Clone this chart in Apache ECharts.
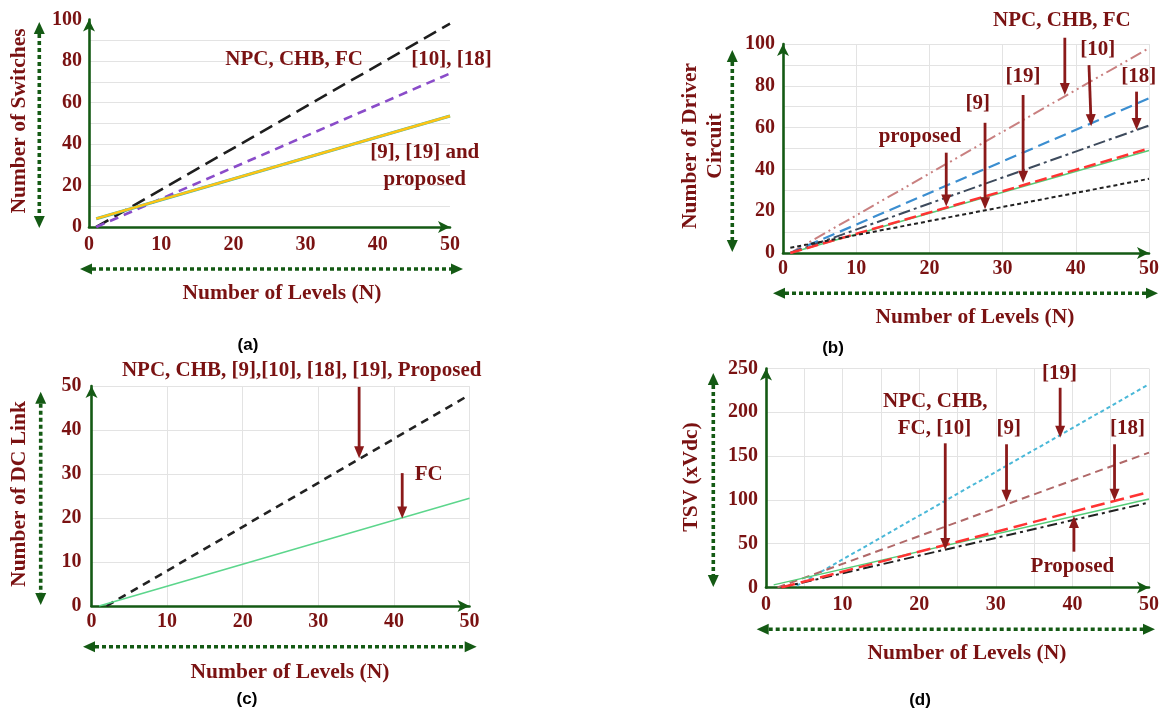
<!DOCTYPE html>
<html>
<head>
<meta charset="utf-8">
<script src="https://cdn.jsdelivr.net/npm/echarts@6/dist/echarts.min.js"></script>
<style>
html,body{margin:0;padding:0;background:#fff;}
#chart{width:1162px;height:713px;}
</style>
</head>
<body>
<div id="chart"></div>
<script>
// ---------- DATA ----------
// (a) Number of switches
const aLevels = [1, 50];
const aNPC = [0, 98];
const aRef10_18 = [0, 74];
const aRef9_19_prop = [4, 53.5];

// (b) Number of driver circuits
const bLevels = [1, 50];
const bNPC = [0, 98];
const bRef10 = [0, 74];
const bRef18 = [0, 61];
const bRef19 = [0, 50];
const bProposed = [0, 49];
const bRef9 = [2.5, 35.5];

// (c) Number of DC links
const cLevelsMain = [2, 50];
const cMain = [0, 48];
const cLevelsFC = [1, 50];
const cFC = [0, 24.5];

// (d) TSV
const dLevels19 = [4, 50];
const dRef19 = [2, 232];
const dLevels9 = [1.5, 50];
const dRef9 = [0, 154];
const dLevels18 = [2, 50];
const dRef18 = [0, 109];
const dLevelsProp = [1, 50];
const dProposed = [3, 101];
const dLevelsNPC = [2, 50];
const dNPC = [0, 97];

// annotations (data coordinates)
const aNotes = [
  ['NPC, CHB, FC', 28.4, 80.5],
  ['[10], [18]', 50.2, 80.5],
  ['[9], [19] and', 46.5, 35.7],
  ['proposed', 46.5, 22.7]
];
const bNotes = [
  ['NPC, CHB, FC', 38.1, 111],
  ['[10]', 43, 97.1],
  ['[19]', 32.8, 84.2],
  ['[18]', 48.6, 84.2],
  ['[9]', 26.6, 71.3],
  ['proposed', 18.7, 55.5]
];
const bArrows = [
  [22.3, 48, 22.3, 22.2],
  [27.6, 62.3, 27.6, 20.9],
  [32.8, 75.6, 32.8, 33.6],
  [38.5, 103, 38.5, 75.6],
  [41.8, 89.9, 42.1, 60.7],
  [48.3, 77.2, 48.3, 58.9]
];
const cNotes = [
  ['NPC, CHB, [9],[10], [18], [19], Proposed', 27.8, 53.5],
  ['FC', 44.6, 29.8]
];
const cArrows = [
  [35.4, 49.8, 35.4, 33.6],
  [41.1, 30.2, 41.1, 19.9]
];
const dNotes = [
  ['[19]', 38.3, 244.5],
  ['NPC, CHB,', 22.1, 212],
  ['FC, [10]', 22.0, 181],
  ['[9]', 31.7, 181],
  ['[18]', 47.2, 181],
  ['Proposed', 40.0, 23.7]
];
const dArrows = [
  [38.4, 228, 38.4, 171],
  [23.4, 164.6, 23.4, 42.8],
  [31.4, 163.5, 31.4, 98],
  [45.5, 163.5, 45.5, 99],
  [40.2, 40.9, 40.2, 81.6]
];

// ---------- STYLE ----------
const TXT = '#7a1212';
const GREEN = '#145a14';
const ARROW = '#8b1a1a';
const SERIF = '"Liberation Serif", "Times New Roman", serif';
const GRIDC = '#e3e3e3';

const grids = [
  {left: 89, top: 19.5, width: 361, height: 207.5},
  {left: 783, top: 44, width: 370, height: 209},
  {left: 91.5, top: 386, width: 378, height: 220},
  {left: 766, top: 368.5, width: 386, height: 219}
];

function zip(xs, ys) { return xs.map((x, i) => [x, ys[i]]); }

function xAxisCfg(gi, interval, margin, showGrid, fmt) {
  return {
    gridIndex: gi, type: 'value', min: 0, max: 50, interval: interval,
    axisLine: {show: true, onZero: false, lineStyle: {color: GREEN, width: 2.6},
      symbol: ['none', 'arrow'], symbolSize: [9, 12]},
    axisTick: {show: false},
    axisLabel: {margin: margin, color: TXT, fontFamily: SERIF, fontWeight: 'bold', fontSize: 20,
      formatter: fmt || (v => String(v))},
    splitLine: {show: showGrid, lineStyle: {color: GRIDC, width: 1}}
  };
}
function yAxisCfg(gi, max, interval, margin, fmt, hideMax) {
  return {
    gridIndex: gi, type: 'value', min: 0, max: max, interval: interval,
    axisLine: {show: true, onZero: false, lineStyle: {color: GREEN, width: 2.6},
      symbol: ['none', 'arrow'], symbolSize: [9, 12]},
    axisTick: {show: false},
    axisLabel: {margin: margin, color: TXT, fontFamily: SERIF, fontWeight: 'bold', fontSize: 20,
      formatter: fmt || (v => String(v))},
    splitLine: {show: true, showMaxLine: !hideMax, lineStyle: {color: GRIDC, width: 1}}
  };
}
const every20 = v => (v % 20 === 0 ? String(v) : '');
const every10 = v => (v % 10 === 0 ? String(v) : '');

function ser(gi, data, color, width, dash, z) {
  return {
    type: 'line', xAxisIndex: gi, yAxisIndex: gi, data: data,
    symbol: 'none', showSymbol: false, silent: true, z: z || 3,
    lineStyle: {color: color, width: width, type: dash || 'solid'}
  };
}

const chart = echarts.init(document.getElementById('chart'), null, {renderer: 'canvas'});
chart.setOption({
  animation: false,
  backgroundColor: '#fff',
  grid: grids,
  xAxis: [
    xAxisCfg(0, 10, 8, false),
    xAxisCfg(1, 10, 6, true),
    xAxisCfg(2, 10, 6, true),
    xAxisCfg(3, 5, 7, true, every10)
  ],
  yAxis: [
    yAxisCfg(0, 100, 10, 7, every20, true),
    yAxisCfg(1, 100, 10, 8, every20),
    yAxisCfg(2, 50, 10, 10),
    yAxisCfg(3, 250, 50, 8)
  ],
  series: [
    // (a)
    ser(0, zip(aLevels, aNPC), '#1e1e1e', 2.6, [14, 7]),
    ser(0, zip(aLevels, aRef10_18), '#8a4cc9', 2.6, [9, 6]),
    ser(0, zip(aLevels, aRef9_19_prop), '#3cb4a8', 3.2),
    ser(0, zip(aLevels, aRef9_19_prop), '#ffc414', 2.4, 'solid', 4),
    // (b)
    ser(1, zip(bLevels, bNPC), '#c98080', 2, [12, 4, 2, 4, 2, 4]),
    ser(1, zip(bLevels, bRef10), '#3b8ed0', 2.2, [12, 6]),
    ser(1, zip(bLevels, bRef18), '#3d4a5c', 2, [12, 4, 3, 4]),
    ser(1, zip(bLevels, bProposed), '#55cc77', 1.5),
    ser(1, zip(bLevels, bRef19), '#ff3333', 2.5, [12, 5]),
    ser(1, zip(bLevels, bRef9), '#222222', 2, [4, 3]),
    // (c)
    ser(2, zip(cLevelsMain, cMain), '#222222', 2.6, [8, 6]),
    ser(2, zip(cLevelsFC, cFC), '#5cd68c', 1.5),
    // (d)
    ser(3, zip(dLevels19, dRef19), '#4ab8d8', 2, [4, 3]),
    ser(3, zip(dLevels9, dRef9), '#b06868', 2, [8, 5]),
    ser(3, zip(dLevelsNPC, dNPC), '#222222', 2, [10, 4, 3, 4]),
    ser(3, zip(dLevelsProp, dProposed), '#55cc77', 1.5),
    ser(3, zip(dLevels18, dRef18), '#ff3333', 2.5, [14, 6])
  ]
});

// ---------- ANNOTATIONS ----------
const els = [];
const NOTE_FONT = 'bold 21px ' + SERIF;
function P(gi, x, y) { return chart.convertToPixel({gridIndex: gi}, [x, y]); }

function text(x, y, t, font, fill, rot, lh) {
  els.push({type: 'text', x: x, y: y, rotation: rot || 0, z: 20,
    style: {text: t, font: font, fill: fill, textAlign: 'center', textVerticalAlign: 'middle',
      lineHeight: lh || undefined}});
}
function arrowHead(px, py, ux, uy, len, w, color) {
  const bx = px - ux * len, by = py - uy * len;
  const nx = -uy, ny = ux;
  els.push({type: 'polygon', z: 20, shape: {points: [[px, py], [bx + nx * w / 2, by + ny * w / 2], [bx - nx * w / 2, by - ny * w / 2]]},
    style: {fill: color}});
  return [bx, by];
}
function arrow(p1, p2, color, width, len, w) {
  const dx = p2[0] - p1[0], dy = p2[1] - p1[1], L = Math.hypot(dx, dy);
  const ux = dx / L, uy = dy / L;
  const b = arrowHead(p2[0], p2[1], ux, uy, len, w, color);
  els.push({type: 'line', z: 20, shape: {x1: p1[0], y1: p1[1], x2: b[0] + ux, y2: b[1] + uy},
    style: {stroke: color, lineWidth: width}});
}
function dottedDouble(x1, y1, x2, y2) {
  const dx = x2 - x1, dy = y2 - y1, L = Math.hypot(dx, dy);
  const ux = dx / L, uy = dy / L;
  const b2 = arrowHead(x2, y2, ux, uy, 12, 11, GREEN);
  const b1 = arrowHead(x1, y1, -ux, -uy, 12, 11, GREEN);
  els.push({type: 'line', z: 20, shape: {x1: b1[0], y1: b1[1], x2: b2[0], y2: b2[1]},
    style: {stroke: GREEN, lineWidth: 3.6, lineDash: [4, 3]}});
}

aNotes.forEach(n => { const p = P(0, n[1], n[2]); text(p[0], p[1], n[0], NOTE_FONT, TXT); });
bNotes.forEach(n => { const p = P(1, n[1], n[2]); text(p[0], p[1], n[0], NOTE_FONT, TXT); });
cNotes.forEach(n => { const p = P(2, n[1], n[2]); text(p[0], p[1], n[0], NOTE_FONT, TXT); });
dNotes.forEach(n => { const p = P(3, n[1], n[2]); text(p[0], p[1], n[0], NOTE_FONT, TXT); });
bArrows.forEach(a => arrow(P(1, a[0], a[1]), P(1, a[2], a[3]), ARROW, 2.8, 12, 10));
cArrows.forEach(a => arrow(P(2, a[0], a[1]), P(2, a[2], a[3]), ARROW, 2.8, 12, 10));
dArrows.forEach(a => arrow(P(3, a[0], a[1]), P(3, a[2], a[3]), ARROW, 2.8, 12, 10));

// axis titles
const TITLE_FONT = 'bold 21.5px ' + SERIF;
text(19, 121, 'Number of Switches', TITLE_FONT, TXT, Math.PI / 2);
text(282, 293, 'Number of Levels (N)', TITLE_FONT, TXT);
text(702.5, 146, 'Number of Driver\nCircuit', TITLE_FONT, TXT, Math.PI / 2, 25);
text(975, 317, 'Number of Levels (N)', TITLE_FONT, TXT);
text(19, 494, 'Number of DC Link', TITLE_FONT, TXT, Math.PI / 2);
text(290, 672, 'Number of Levels (N)', TITLE_FONT, TXT);
text(691.5, 477, 'TSV (xVdc)', TITLE_FONT, TXT, Math.PI / 2);
text(967, 653, 'Number of Levels (N)', TITLE_FONT, TXT);

// dotted double arrows
dottedDouble(39.3, 22, 39.3, 228);
dottedDouble(80, 269, 463, 269);
dottedDouble(732.3, 50, 732.3, 252);
dottedDouble(773, 293.3, 1158, 293.3);
dottedDouble(40.7, 391.7, 40.7, 605);
dottedDouble(83, 646.7, 476.7, 646.7);
dottedDouble(713.3, 373, 713.3, 587);
dottedDouble(756.7, 629.3, 1155, 629.3);

// captions
const CAP_FONT = 'bold 17px "Liberation Sans", Arial, sans-serif';
text(248, 345, '(a)', CAP_FONT, '#000');
text(833, 348, '(b)', CAP_FONT, '#000');
text(247, 699, '(c)', CAP_FONT, '#000');
text(920, 700, '(d)', CAP_FONT, '#000');

chart.setOption({graphic: {elements: els}});
</script>
</body>
</html>
